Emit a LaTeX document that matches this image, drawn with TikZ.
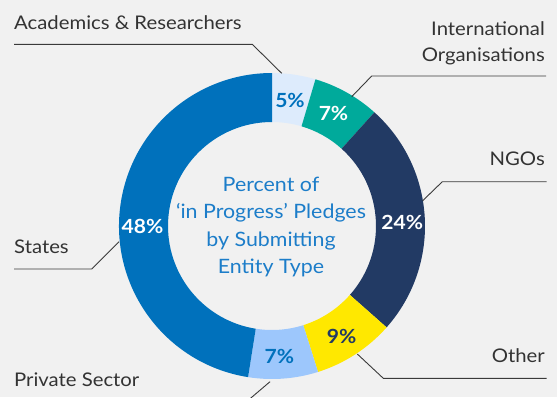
\documentclass[tikz,border=0pt]{standalone}
\usepackage{fontspec}
\setmainfont{Lato}[FakeStretch=1.08]
\definecolor{bgc}{HTML}{F1F1F1}
\definecolor{states}{HTML}{0071BC}
\definecolor{acad}{HTML}{DDEBFC}
\definecolor{intl}{HTML}{00AA9B}
\definecolor{ngos}{HTML}{223A64}
\definecolor{other}{HTML}{FFE800}
\definecolor{private}{HTML}{9DC7FC}
\definecolor{labelgray}{HTML}{333333}
\definecolor{linegray}{HTML}{3A3A3A}
\definecolor{titleblue}{HTML}{1C7DC9}
\def\ROut{153}
\def\RIn{104}
\newcommand\ringseg[3]{\fill[#3] ([shift={(#1:\ROut)}]c) arc[start angle=#1,end angle=#2,radius=\ROut] -- ([shift={(#2:\RIn)}]c) arc[start angle=#2,end angle=#1,radius=\RIn] -- cycle;}
\tikzset{
  lbl/.style={font=\fontsize{18.8}{19}\selectfont, text=labelgray, inner sep=0pt},
  pct/.style={font=\bfseries\fontsize{19.5}{19.5}\selectfont, inner sep=0pt},
  leader/.style={draw=linegray, line width=0.9pt},
}
\begin{document}
\begin{tikzpicture}[x=1pt,y=-1pt]
\useasboundingbox (0,0) rectangle (557,397);
\fill[bgc] (0,0) rectangle (557,397);
\coordinate (c) at (272,226);
% ring (screen angles, y downwards)
\ringseg{-90}{-73.5}{acad}
\ringseg{-73.5}{-48}{intl}
\ringseg{-48}{41.5}{ngos}
\ringseg{41.5}{72.5}{other}
\ringseg{72.5}{99}{private}
\ringseg{99}{270}{states}
% percentages
\node[pct, text=states] (p5) at (290,100) {5\%};
\node[pct, text=white] (p7i) at (333.5,113.5) {7\%};
\node[pct, text=white] (p24) at (402.2,222) {24\%};
\node[pct, text=ngos] (p9) at (341.7,336) {9\%};
\node[pct, text=states] (p7p) at (279.3,356) {7\%};
\node[pct, text=white] (p48) at (142.5,226.7) {48\%};
% centre title
\node[text=titleblue, align=center, inner sep=0pt, font=\fontsize{19.8}{27.4}\selectfont] (title) at (271,227) {Percent of\\‘in Progress’ Pledges\\by Submitting\\Entity Type};
% labels
\node[lbl, anchor=base west] (lacad) at (14,29.3) {Academics \& Researchers};
\node[lbl, anchor=base east] (lintl1) at (545,35) {International};
\node[lbl, anchor=base east] (lintl2) at (545,61) {Organisations};
\node[lbl, anchor=base east] (lngo) at (545,165) {NGOs};
\node[lbl, anchor=base west] (lstates) at (14,253) {States};
\node[lbl, anchor=base east] (lother) at (545,362.7) {Other};
\node[lbl, anchor=base west] (lpriv) at (14,386) {Private Sector};
% leader lines
\coordinate (acA) at (14,44.3); \coordinate (acB) at (252.3,44.3); \coordinate (acC) at (281.7,73.3);
\coordinate (inA) at (546,76); \coordinate (inB) at (371.7,76); \coordinate (inC) at (351.7,96.7);
\coordinate (ngA) at (546.7,181.7); \coordinate (ngB) at (442.3,181.7); \coordinate (ngC) at (422.7,200.7);
\coordinate (otA) at (546.7,378.3); \coordinate (otB) at (383.3,378.3); \coordinate (otC) at (357.3,354);
\coordinate (stA) at (14,269); \coordinate (stB) at (91.7,269); \coordinate (stC) at (119,241.7);
\coordinate (prA) at (270,381.7); \coordinate (prB) at (248.5,400);
\draw[leader] (acA) -- (acB) -- (acC);
\draw[leader] (inA) -- (inB) -- (inC);
\draw[leader] (ngA) -- (ngB) -- (ngC);
\draw[leader] (otA) -- (otB) -- (otC);
\draw[leader] (stA) -- (stB) -- (stC);
\draw[leader] (prA) -- (prB);
\end{tikzpicture}
\end{document}
